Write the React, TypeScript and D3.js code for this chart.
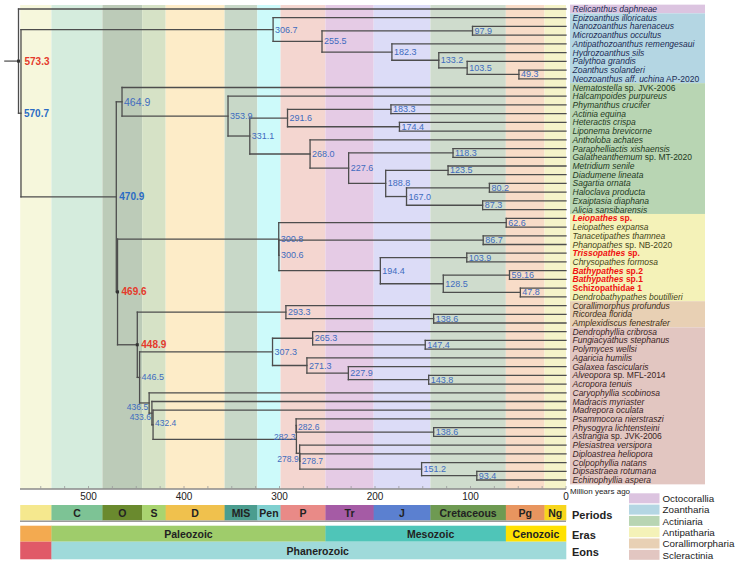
import React from 'react';
import * as d3 from 'd3';

// ---------- DATA ----------
const tipNames: [string, string][] = [
  ['Relicanthus daphneae', ''],
  ['Epizoanthus illoricatus', ''],
  ['Nanozoanthus harenaceus', ''],
  ['Microzoanthus occultus', ''],
  ['Antipathozoanthus remengesaui', ''],
  ['Hydrozoanthus sils', ''],
  ['Palythoa grandis', ''],
  ['Zoanthus solanderi', ''],
  ['Neozoanthus aff. uchina', ' AP-2020'],
  ['Nematostella', ' sp. JVK-2006'],
  ['Halcampoides purpureus', ''],
  ['Phymanthus crucifer', ''],
  ['Actinia equina', ''],
  ['Heteractis crispa', ''],
  ['Liponema brevicorne', ''],
  ['Antholoba achates', ''],
  ['Paraphelliactis xishaensis', ''],
  ['Galatheanthemum', ' sp. MT-2020'],
  ['Metridium senile', ''],
  ['Diadumene lineata', ''],
  ['Sagartia ornata', ''],
  ['Haloclava producta', ''],
  ['Exaiptasia diaphana', ''],
  ['Alicia sansibarensis', ''],
  ['Leiopathes', ' sp.'],
  ['Leiopathes expansa', ''],
  ['Tanacetipathes thamnea', ''],
  ['Phanopathes', ' sp. NB-2020'],
  ['Trissopathes', ' sp.'],
  ['Chrysopathes formosa', ''],
  ['Bathypathes', ' sp.2'],
  ['Bathypathes', ' sp.1'],
  ['', 'Schizopathidae 1'],
  ['Dendrobathypathes boutillieri', ''],
  ['Corallimorphus profundus', ''],
  ['Ricordea florida', ''],
  ['Amplexidiscus fenestrafer', ''],
  ['Dendrophyllia cribrosa', ''],
  ['Fungiacyathus stephanus', ''],
  ['Polymyces wellsi', ''],
  ['Agaricia humilis', ''],
  ['Galaxea fascicularis', ''],
  ['Alveopora', ' sp. MFL-2014'],
  ['Acropora tenuis', ''],
  ['Caryophyllia scobinosa', ''],
  ['Madracis myriaster', ''],
  ['Madrepora oculata', ''],
  ['Psammocora nierstraszi', ''],
  ['Physogyra lichtensteini', ''],
  ['Astrangia', ' sp. JVK-2006'],
  ['Plesiastrea versipora', ''],
  ['Diploastrea heliopora', ''],
  ['Colpophyllia natans', ''],
  ['Dipsastraea rotumana', ''],
  ['Echinophyllia aspera', ''],
];

const highlightedTips = [24, 28, 30, 31, 32];

const groupNames = ['Octocorallia', 'Zoantharia', 'Actiniaria', 'Antipatharia', 'Corallimorpharia', 'Scleractinia'];
const groupCounts = [1, 8, 15, 10, 3, 18];
const groupFill = ['#dcc4e0', '#b4d6e3', '#b8d5b3', '#f4f2b8', '#e8d0b4', '#e2c6c1'];
const groupText = ['#1c2c55', '#1c2c55', '#1f3a22', '#45451a', '#3e2e1a', '#3a2424'];

// tree topology (Newick pieces); node labels = divergence time (Ma), tips = row indices
const cladeZoantharia = '(1,((2,3)97.9,(4,(5,(6,(7,8)49.3)103.5)133.2)182.3)255.5)306.7';
const cladeActiniaria =
  '(9,(10,(((11,12)183.3,(13,14)174.4)291.6,(15,((16,17)118.3,((18,19)123.5,((20,21)80.2,(22,23)87.3)167.0)188.8)227.6)268.0)331.1)353.9)464.9';
const cladeAntipatharia =
  '((24,25)62.6,((26,27)86.7,((28,29)103.9,((30,31)59.16,(32,33)47.8)128.5)194.4)300.6)300.8';
const cladeCorallimorpharia = '(34,(35,36)138.6)293.3';
const cladeScleractinia =
  '(((37,(38,39)147.4)265.3,(40,(41,(42,43)143.8)227.9)271.3)307.3,(44,(45,(46,((47,(48,49)138.6)282.6,(50,(51,(52,(53,54)93.4)151.2)278.7)278.9)282.3)432.4)433.6)436.5)446.5';
const treeNewick =
  '(0,(' + cladeZoantharia + ',(' + cladeActiniaria + ',(' + cladeAntipatharia + ',(' +
  cladeCorallimorpharia + ',' + cladeScleractinia + ')448.9)469.6)470.9)570.7)573.3;';

const periodNames = ['', 'C', 'O', 'S', 'D', 'MIS', 'Pen', 'P', 'Tr', 'J', 'Cretaceous', 'Pg', 'Ng'];
const periodStarts = [571.5, 538.8, 485.4, 443.8, 419.2, 357.5, 323.2, 298.9, 251.9, 201.4, 142, 63, 22.5];
const periodColors = ['#f5e88e', '#7dc395', '#6a8a2e', '#a9d46f', '#f0c14d', '#4b9d8f', '#7fd0d0', '#e98a87', '#a55ba5', '#5b80d0', '#6e9a52', '#e8955f', '#f7d51c'];
const bandColors = ['#f6f7dc', '#d5ecdd', '#bccbb8', '#d6e2c6', '#fdecc8', '#c8d8c8', '#cdfafa', '#f4d6d0', '#e5cbe5', '#dcdcf7', '#cfdccd', '#f8dcc8', '#f5f3c9'];

const eraNames = ['', 'Paleozoic', 'Mesozoic', 'Cenozoic'];
const eraStarts = [571.5, 538.8, 251.9, 63];
const eraColors = ['#f3aa50', '#9fcc6b', '#4fc5b8', '#ffe100'];

const eonNames = ['', 'Phanerozoic'];
const eonStarts = [571.5, 538.8];
const eonColors = ['#e05a68', '#9fdada'];

const axisTicks = [0, 100, 200, 300, 400, 500];

// ---------- LAYOUT ----------
type TNode = { label: string; tip?: number; children: TNode[]; x: number; y: number; age: number };

function parseNewick(s: string): TNode {
  let i = 0;
  function node(): TNode {
    const n: TNode = { label: '', children: [], x: 0, y: 0, age: 0 };
    if (s[i] === '(') {
      i++;
      n.children.push(node());
      while (s[i] === ',') {
        i++;
        n.children.push(node());
      }
      i++;
    }
    let lab = '';
    while (i < s.length && !'(),;'.includes(s[i])) lab += s[i++];
    if (n.children.length === 0) {
      n.tip = +lab;
      n.age = 0;
    } else {
      n.label = lab;
      n.age = +lab;
    }
    return n;
  }
  return node();
}

const FONT = "'Liberation Sans', Arial, Helvetica, sans-serif";
const xScale = d3.scaleLinear().domain([573.3, 0]).range([18.5, 566]);
const yScale = d3.scaleLinear().domain([0, tipNames.length - 1]).range([9, 480]);
const BAND_TOP = 5;
const AXIS_Y = 489;

const root = parseNewick(treeNewick);
function layout(n: TNode) {
  n.x = xScale(n.age);
  if (n.tip !== undefined) {
    n.y = yScale(n.tip);
  } else {
    n.children.forEach(layout);
    n.y = d3.mean(n.children, (c) => c.y) as number;
  }
}
layout(root);
const internals: TNode[] = [];
(function collect(n: TNode) {
  if (n.children.length) {
    internals.push(n);
    n.children.forEach(collect);
  }
})(root);

const RED = '#e53a2b';
const BLUE_B = '#2b6cc4';
const BLUE = '#3f6cbf';
type LStyle = { color: string; size: number; weight: string; anchor: string; dx: number; dy: number; marker?: boolean };
const defaultStyle: LStyle = { color: BLUE, size: 9, weight: 'normal', anchor: 'start', dx: 2, dy: 0 };
const labelStyles: Record<string, Partial<LStyle>> = {
  '573.3': { color: RED, size: 10, weight: 'bold', dx: 6, marker: true },
  '570.7': { color: BLUE_B, size: 10, weight: 'bold', dx: 3 },
  '470.9': { color: BLUE_B, size: 10, weight: 'bold', dx: 3 },
  '469.6': { color: RED, size: 10, weight: 'bold', dx: 4, marker: true },
  '448.9': { color: RED, size: 10, weight: 'bold', dx: 4, marker: true },
  '464.9': { size: 10.5, dx: 2 },
  '436.5': { anchor: 'end', dx: -1, dy: 4.5, size: 8.5 },
  '433.6': { anchor: 'end', dx: -1, dy: 3.5, size: 8.5 },
  '432.4': { size: 8.5, dy: -2 },
  '282.3': { anchor: 'end', dx: -1, dy: -2, size: 8.5 },
  '278.9': { anchor: 'end', dx: -1, dy: 6, size: 8.5 },
  '282.6': { size: 8.5, dy: 2 },
  '278.7': { size: 8.5 },
};

function groupOfTip(i: number) {
  let acc = 0;
  for (let g = 0; g < groupCounts.length; g++) {
    acc += groupCounts[g];
    if (i < acc) return g;
  }
  return groupCounts.length - 1;
}

function spans(starts: number[]) {
  return starts.map((s, i) => {
    const e = i + 1 < starts.length ? starts[i + 1] : 0;
    return { x0: xScale(s), x1: xScale(e) };
  });
}

export default function App() {
  const rowH = yScale(1) - yScale(0);
  const periodSpans = spans(periodStarts);
  const eraSpans = spans(eraStarts);
  const eonSpans = spans(eonStarts);
  const labelX = 572.5;
  const boxX0 = 570;
  const boxX1 = 705;

  const groupBoxes: { y0: number; y1: number; g: number }[] = [];
  let start = 0;
  groupCounts.forEach((c, g) => {
    groupBoxes.push({ y0: yScale(start) - rowH / 2, y1: yScale(start + c - 1) + rowH / 2, g });
    start += c;
  });

  const minorTicks = d3.range(0, 575, 25);
  const eraDx: Record<string, number> = { Mesozoic: 15, Phanerozoic: 9 };

  const P_Y0 = 505, P_Y1 = 520.5;
  const E_Y0 = 525.7, E_Y1 = 541.7, N_Y1 = 559.3;

  return (
    <svg
      width={735}
      height={565}
      style={{ position: 'absolute', left: 0, top: 0, background: '#fff' }}
      fontFamily={FONT}
    >
      {/* period background bands */}
      {periodSpans.map((s, i) => (
        <rect key={'b' + i} x={s.x0} y={BAND_TOP} width={s.x1 - s.x0} height={AXIS_Y - BAND_TOP} fill={bandColors[i]} />
      ))}

      {/* tip group boxes */}
      {groupBoxes.map((b) => (
        <rect key={'gb' + b.g} x={boxX0} y={b.y0} width={boxX1 - boxX0} height={b.y1 - b.y0} fill={groupFill[b.g]} />
      ))}

      {/* branches */}
      <g stroke="#4d4d4d" strokeWidth={1.3} fill="none" strokeLinecap="square">
        <line x1={5} x2={root.x} y1={root.y} y2={root.y} stroke="#777" strokeWidth={1.6} />
        {internals.map((n, i) => {
          const ys = n.children.map((c) => c.y);
          return (
            <g key={'n' + i}>
              <line x1={n.x} x2={n.x} y1={d3.min(ys)} y2={d3.max(ys)} />
              {n.children.map((c, j) => (
                <line key={j} x1={n.x} x2={c.x} y1={c.y} y2={c.y} />
              ))}
            </g>
          );
        })}
      </g>

      {/* node labels */}
      {internals.map((n, i) => {
        const st: LStyle = { ...defaultStyle, ...(labelStyles[n.label] || {}) };
        return (
          <g key={'l' + i}>
            {st.marker && <rect x={n.x - 1.5} y={n.y - 1.5} width={3} height={3} fill="#333" />}
            <text
              x={n.x + st.dx}
              y={n.y + st.dy}
              dominantBaseline="central"
              textAnchor={st.anchor}
              fontSize={st.size}
              fontWeight={st.weight}
              fill={st.color}
            >
              {n.label}
            </text>
          </g>
        );
      })}

      {/* tip labels */}
      {tipNames.map((t, i) => {
        const hl = highlightedTips.includes(i);
        const g = groupOfTip(i);
        return (
          <text
            key={'t' + i}
            x={labelX}
            y={yScale(i)}
            dominantBaseline="central"
            fontSize={8.5}
            fill={hl ? '#f01010' : groupText[g]}
            fontWeight={hl ? 'bold' : 'normal'}
          >
            {t[0] && <tspan fontStyle="italic">{t[0]}</tspan>}
            {t[1] && <tspan>{t[1]}</tspan>}
          </text>
        );
      })}

      {/* axis */}
      <line x1={20} x2={xScale(0)} y1={AXIS_Y} y2={AXIS_Y} stroke="#8a8a8a" strokeWidth={1.6} />
      {minorTicks.map((t) => (
        <line key={'mt' + t} x1={xScale(t)} x2={xScale(t)} y1={AXIS_Y - 3} y2={AXIS_Y} stroke="#9a9a9a" strokeWidth={0.8} />
      ))}
      {axisTicks.map((t) => (
        <text key={'at' + t} x={xScale(t)} y={AXIS_Y + 7.5} textAnchor="middle" dominantBaseline="central" fontSize={10} fill="#222">
          {t}
        </text>
      ))}
      <text x={570} y={AXIS_Y + 2} dominantBaseline="central" fontSize={8} fill="#222">
        Million years ago
      </text>

      {/* period bar */}
      {periodSpans.map((s, i) => (
        <g key={'p' + i}>
          <rect x={s.x0} y={P_Y0} width={s.x1 - s.x0 + 0.3} height={P_Y1 - P_Y0} fill={periodColors[i]} />
          <text x={(s.x0 + s.x1) / 2} y={(P_Y0 + P_Y1) / 2 + 0.5} textAnchor="middle" dominantBaseline="central" fontSize={10.5} fontWeight="bold" fill="#222">
            {periodNames[i]}
          </text>
        </g>
      ))}
      <line x1={20} x2={xScale(0)} y1={P_Y1 + 0.8} y2={P_Y1 + 0.8} stroke="#9a9a9a" strokeWidth={1.5} />

      {/* eras */}
      {eraSpans.map((s, i) => (
        <g key={'e' + i}>
          <rect x={s.x0} y={E_Y0} width={s.x1 - s.x0 + 0.3} height={E_Y1 - E_Y0} fill={eraColors[i]} />
          <text x={(s.x0 + s.x1) / 2 + (eraDx[eraNames[i]] || 0)} y={(E_Y0 + E_Y1) / 2} textAnchor="middle" dominantBaseline="central" fontSize={10.5} fontWeight="bold" fill="#222">
            {eraNames[i]}
          </text>
        </g>
      ))}

      {/* eons */}
      {eonSpans.map((s, i) => (
        <g key={'o' + i}>
          <rect x={s.x0} y={E_Y1} width={s.x1 - s.x0 + 0.3} height={N_Y1 - E_Y1} fill={eonColors[i]} />
          <text x={(s.x0 + s.x1) / 2 + (eraDx[eonNames[i]] || 0)} y={(E_Y1 + N_Y1) / 2} textAnchor="middle" dominantBaseline="central" fontSize={10.5} fontWeight="bold" fill="#222">
            {eonNames[i]}
          </text>
        </g>
      ))}

      {/* row titles */}
      {[
        ['Periods', (P_Y0 + P_Y1) / 2 + 2],
        ['Eras', (E_Y0 + E_Y1) / 2 + 1],
        ['Eons', (E_Y1 + N_Y1) / 2 + 1.5],
      ].map(([t, y]) => (
        <text key={t as string} x={572} y={y as number} dominantBaseline="central" fontSize={11} fontWeight="bold" fill="#222">
          {t}
        </text>
      ))}

      {/* legend */}
      {groupNames.map((g, i) => (
        <g key={'lg' + i} transform={`translate(629, ${493.3 + i * 11.3})`}>
          <rect x={0} y={0} width={30.5} height={10} fill={groupFill[i]} />
          <text x={33.5} y={5.3} dominantBaseline="central" fontSize={9.8} fill="#222">
            {g}
          </text>
        </g>
      ))}
    </svg>
  );
}
